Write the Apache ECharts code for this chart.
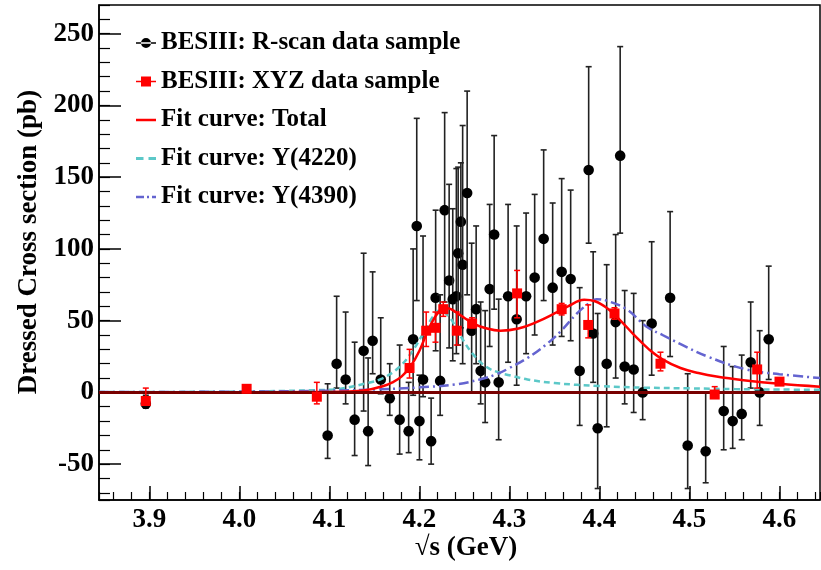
<!DOCTYPE html>
<html><head><meta charset="utf-8">
<script src="https://cdn.jsdelivr.net/npm/echarts@6/dist/echarts.min.js"></script>
<style>html,body{margin:0;padding:0;background:#fff}#c{width:821px;height:570px}</style>
</head><body><div id="c"></div>
<script>
// ---- R-scan data (black points) ----
const rscanX  = [3.896,4.098,4.108,4.118,4.128,4.138,4.143,4.148,4.157,4.167,4.178,4.188,4.193,4.197,4.200,4.204,4.213,4.218,4.223,4.228,4.233,4.237,4.241,4.243,4.246,4.248,4.253,4.258,4.263,4.268,4.273,4.278,4.283,4.288,4.2985,4.308,4.3185,4.328,4.338,4.348,4.358,4.368,4.378,4.388,4.393,4.398,4.408,4.418,4.423,4.428,4.438,4.448,4.458,4.4785,4.498,4.518,4.538,4.548,4.558,4.568,4.578,4.588];
const rscanY  = [-8,-30,20,9,-19,29,-27,36,9,-4,-19,-27,37,116,-20,9,-34,66,8,127,78,65,67,97,119,89,139,43,58,15,7,72,110,7,67,51,67,80,107,73,84,79,15,155,41,-25,20,49,165,18,16,0,48,66,-37,-41,-13,-20,-15,21,0,37];
const rscanLo = [-11,-46,3,-8,-44,-13,-51,13,-1,-16,-43,-42,-2,64,-47,-3,-50,29,-16,63,31,22,27,33,45,20,68,0,20,-8,-21,32,58,-33,21,5,27,40,64,33,39,36,-23,104,7,-67,-24,10,111,-8,-14,-19,12,25,-67,-63,-40,-39,-33,3,-23,9];
const rscanHi = [-2,6,67,56,35,97,24,84,52,20,33,7,100,191,12,109,-4,127,68,195,145,128,156,157,160,186,210,104,116,63,57,131,179,65,131,116,125,138,169,132,149,141,73,227,98,55,89,110,241,71,69,50,105,126,13,0,32,18,26,63,43,88];

// ---- XYZ data (red squares) ----
const xyzX  = [3.896,4.008,4.086,4.189,4.2075,4.2178,4.2265,4.2415,4.2585,4.3085,4.358,4.3875,4.4167,4.4678,4.528,4.5752,4.600];
const xyzY  = [-6,2.5,-3,17,43,45,58,43,48,69,58,47,55,20,-1.5,16,7.5];
const xyzLo = [-9,0.5,-8,10,32,35,53,33,45,52,54,38,51,15,-4,3,5];
const xyzHi = [3,4.5,7,30,56,56,63,56,52,85,62,61,59,28,4,28,10];

// ---- Fit curves ----
const totX = [3.844,4.10,4.14,4.16,4.17,4.18,4.19,4.20,4.21,4.22,4.228,4.235,4.245,4.26,4.275,4.29,4.31,4.33,4.35,4.365,4.383,4.395,4.41,4.425,4.44,4.455,4.47,4.49,4.51,4.53,4.56,4.60,4.645];
const totY = [0,0.3,1.5,4.5,7,11,18,29,44,55,59,58,54,48,44.5,43,44.5,49,55,60,64.5,63.5,58,49,39,30,23,17,13.5,11,8.5,6,4];
const y4220X = [3.844,3.95,4.00,4.05,4.08,4.104,4.141,4.159,4.178,4.193,4.204,4.215,4.222,4.233,4.244,4.259,4.274,4.289,4.30,4.32,4.35,4.40,4.45,4.50,4.55,4.60,4.645];
const y4220Y = [0.2,0.4,0.6,1,1.5,2,6.3,9.8,17.9,29.5,41,52.8,57,52.8,41,27,17.9,13.7,12,9,6.5,4.4,3.3,2.8,2.3,2,1.8];
const y4390X = [3.844,4.00,4.10,4.15,4.20,4.24,4.267,4.285,4.30,4.32,4.34,4.356,4.375,4.388,4.397,4.41,4.43,4.452,4.47,4.489,4.52,4.563,4.60,4.645];
const y4390Y = [0.2,0.5,1.2,2,3.5,5.5,9,12.5,17,24,33,42,55,62,65,63.5,58,46,40,34,25,16,12.7,10];

const X_MIN = 3.844, X_MAX = 4.645, Y_MIN = -75, Y_MAX = 270;
const FONT = 'Liberation Serif';

function zip4(a,b,c,d){ return a.map((v,i)=>[v,b[i],c[i],d[i]]); }
function zip2(a,b){ return a.map((v,i)=>[v,b[i]]); }

function errRenderer(color, barColor, shape, size, capW, lw) {
  return function(params, api) {
    const x = api.value(0), y = api.value(1), lo = api.value(2), hi = api.value(3);
    const p = api.coord([x, y]);
    const pl = api.coord([x, lo]);
    const ph = api.coord([x, hi]);
    const st = {stroke: barColor, lineWidth: lw};
    const ch = [
      {type:'line', shape:{x1:pl[0],y1:pl[1],x2:ph[0],y2:ph[1]}, style:st},
      {type:'line', shape:{x1:pl[0]-capW,y1:pl[1],x2:pl[0]+capW,y2:pl[1]}, style:st},
      {type:'line', shape:{x1:ph[0]-capW,y1:ph[1],x2:ph[0]+capW,y2:ph[1]}, style:st}
    ];
    if (shape === 'circle') ch.push({type:'circle', shape:{cx:p[0],cy:p[1],r:size}, style:{fill:color}});
    else ch.push({type:'rect', shape:{x:p[0]-size,y:p[1]-size,width:2*size,height:2*size}, style:{fill:color}});
    return {type:'group', children: ch};
  };
}

const labelStyle = {fontFamily: FONT, fontWeight: 'bold', fontSize: 27, color: '#000'};

const chart = echarts.init(document.getElementById('c'), null, {renderer: 'canvas'});
chart.setOption({
  animation: false,
  backgroundColor: '#fff',
  grid: {left: 99, right: 1, top: 5, bottom: 70, show: true, borderColor: '#000', borderWidth: 1.5, containLabel: false, outerBoundsMode: 'none'},
  xAxis: [
    {type: 'value', min: X_MIN, max: X_MAX, splitNumber: 8, position: 'bottom',
     axisLine: {show: true, onZero: false, lineStyle: {color: '#000', width: 1.5}},
     axisTick: {show: true, inside: true, length: 14, lineStyle: {color: '#000', width: 1.5}},
     axisLabel: Object.assign({showMinLabel: false, showMaxLabel: false, margin: 7,
       formatter: v => v.toFixed(1)}, labelStyle),
     splitLine: {show: false}},
    {type: 'value', min: X_MIN, max: X_MAX, splitNumber: 40, position: 'bottom',
     axisLine: {show: false, onZero: false},
     axisTick: {show: true, inside: true, length: 8, lineStyle: {color: '#000', width: 1.2}},
     axisLabel: {show: false}, splitLine: {show: false}}
  ],
  yAxis: [
    {type: 'value', min: Y_MIN, max: Y_MAX, splitNumber: 7, position: 'left',
     axisLine: {show: true, onZero: false, lineStyle: {color: '#000', width: 1.5}},
     axisTick: {show: true, inside: true, length: 22, lineStyle: {color: '#000', width: 1.5}},
     axisLabel: Object.assign({showMinLabel: false, showMaxLabel: false, margin: 5,
       formatter: v => String(Math.round(v))}, labelStyle),
     splitLine: {show: false}},
    {type: 'value', min: Y_MIN, max: Y_MAX, splitNumber: 35, position: 'left',
     axisLine: {show: false, onZero: false},
     axisTick: {show: true, inside: true, length: 11, lineStyle: {color: '#000', width: 1.2}},
     axisLabel: {show: false}, splitLine: {show: false}}
  ],
  legend: {
    orient: 'vertical', left: 131, top: 24, itemWidth: 20, itemHeight: 14, itemGap: 10.5,
    textStyle: {fontFamily: FONT, fontWeight: 'bold', fontSize: 25, color: '#000', lineHeight: 28},
    selectedMode: false,
    data: [
      {name: 'BESIII: R-scan data sample', icon: 'path://M0,6.3H20V7.7H0Z M5,7A5,5 0 1,0 15,7A5,5 0 1,0 5,7Z'},
      {name: 'BESIII: XYZ data sample', icon: 'path://M0,6.3H20V7.7H0Z M5,2H15V12H5Z'},
      {name: 'Fit curve: Total', icon: 'path://M0,0H20V2.5H0Z'},
      {name: 'Fit curve: Y(4220)', icon: 'path://M0,0H6V2.5H0Z M10,0H16V2.5H10Z'},
      {name: 'Fit curve: Y(4390)', icon: 'path://M0,0H8V2.5H0Z M11,0H13V2.5H11Z M16,0H20V2.5H16Z'}
    ]
  },
  graphic: [
    {type: 'text', x: 29, y: 242, rotation: Math.PI / 2,
     style: {text: 'Dressed Cross section (pb)', fontFamily: FONT, fontWeight: 'bold', fontSize: 27, fill: '#000', align: 'center', verticalAlign: 'middle'}},
    {type: 'text', x: 466, y: 548,
     style: {text: '\u221As (GeV)', fontFamily: FONT, fontWeight: 'bold', fontSize: 27, fill: '#000', align: 'center', verticalAlign: 'middle'}}
  ],
  series: [
    {name: 'BESIII: R-scan data sample', type: 'custom', xAxisIndex: 0, yAxisIndex: 0, z: 2,
     itemStyle: {color: '#000'},
     renderItem: errRenderer('#000', '#222', 'circle', 5.3, 3, 1.6),
     encode: {x: 0, y: [1, 2, 3]},
     data: zip4(rscanX, rscanY, rscanLo, rscanHi)},
    {name: 'Fit curve: Y(4220)', type: 'line', symbol: 'none', smooth: 0.4, z: 3,
     itemStyle: {color: '#5cc8c8'},
     lineStyle: {color: '#5cc8c8', width: 2.5, type: [6, 4]},
     data: zip2(y4220X, y4220Y)},
    {name: 'Fit curve: Y(4390)', type: 'line', symbol: 'none', smooth: 0.4, z: 3,
     itemStyle: {color: '#6464d0'},
     lineStyle: {color: '#6464d0', width: 2.5, type: [10, 4, 2, 4]},
     data: zip2(y4390X, y4390Y)},
    {name: 'Fit curve: Total', type: 'line', symbol: 'none', smooth: 0.4, z: 4,
     itemStyle: {color: '#ff0000'},
     lineStyle: {color: '#ff0000', width: 2.5},
     data: zip2(totX, totY)},
    {name: 'zero', type: 'line', symbol: 'none', silent: true, z: 5,
     lineStyle: {color: '#780000', width: 3},
     data: [[X_MIN, 0], [X_MAX, 0]]},
    {name: 'BESIII: XYZ data sample', type: 'custom', xAxisIndex: 0, yAxisIndex: 0, z: 6,
     itemStyle: {color: '#ff0000'},
     renderItem: errRenderer('#ff0000', '#ff0000', 'rect', 5, 3, 1.5),
     encode: {x: 0, y: [1, 2, 3]},
     data: zip4(xyzX, xyzY, xyzLo, xyzHi)}
  ]
});
</script></body></html>
